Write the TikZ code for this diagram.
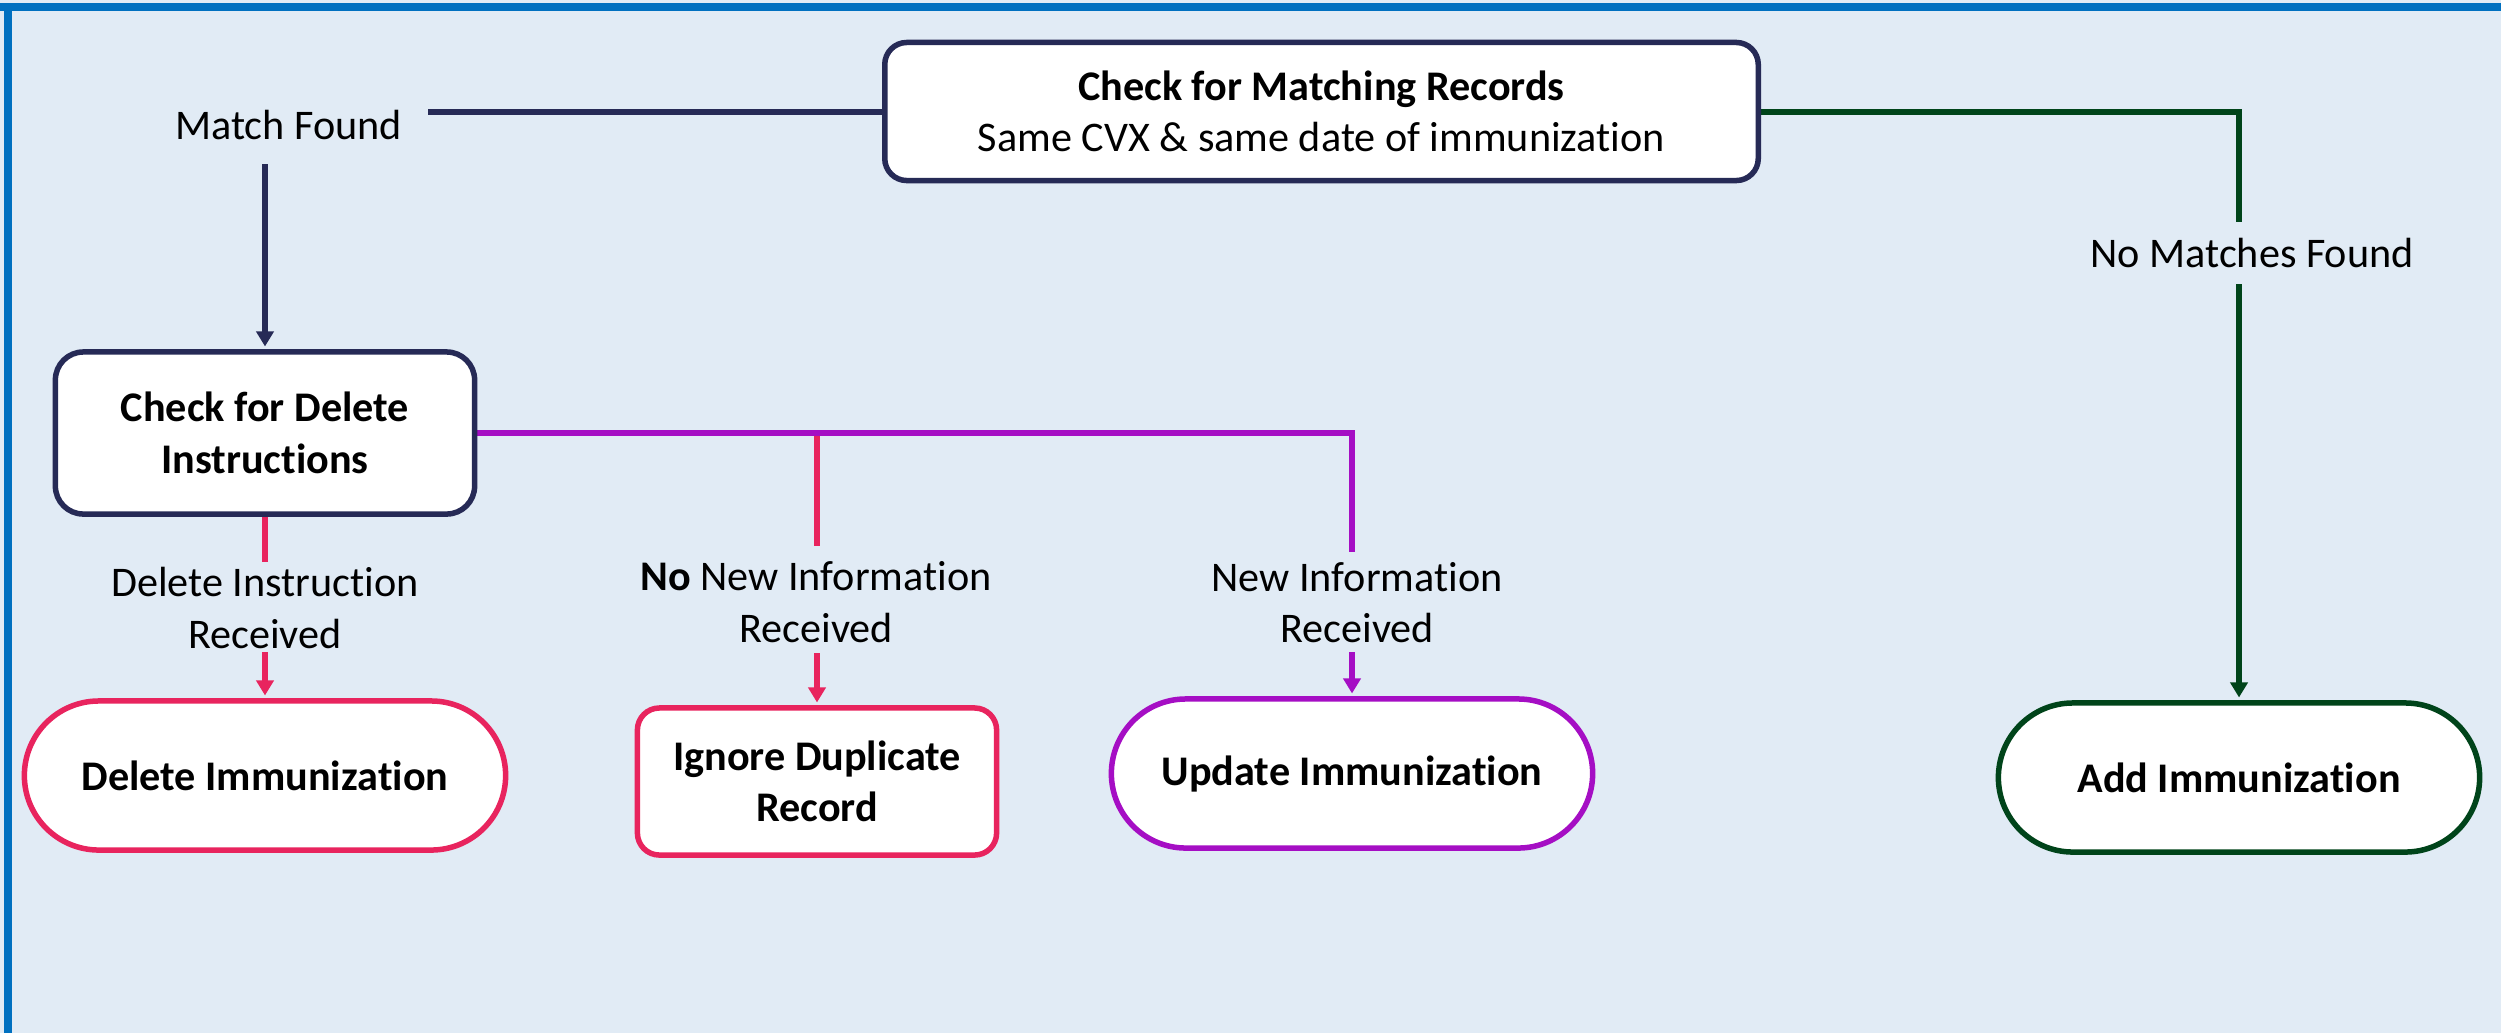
\documentclass[tikz,border=0pt]{standalone}
\usepackage{fontspec}
\setmainfont{Carlito}[Ligatures=NoCommon]
\usetikzlibrary{arrows.meta,backgrounds}
\definecolor{navyc}{RGB}{38,42,86}
\definecolor{greenc}{RGB}{0,68,26}
\definecolor{purpc}{RGB}{165,14,196}
\definecolor{pinkc}{RGB}{232,36,94}
\definecolor{bgc}{RGB}{225,235,245}
\definecolor{framec}{RGB}{0,112,192}
\begin{document}
\begin{tikzpicture}[x=0.01cm,y=-0.01cm,
  txt/.style={font=\fontsize{12pt}{14.6pt}\selectfont, align=center, text=black, inner sep=0pt},
  btxt/.style={font=\fontsize{12pt}{14.6pt}\selectfont\bfseries, align=center, text=black},
  box/.style={btxt, draw, fill=white, line width=0.055cm, inner sep=0pt},
  stadium/.style={box, rounded corners=0.745cm, minimum width=4.81cm, minimum height=1.49cm},
  conn/.style={line width=0.06cm},
  arr/.style={conn, -{Triangle[width=0.17cm,length=0.15cm]}, shorten >=0.0275cm},
]
\useasboundingbox (0,0) rectangle (2501,1033);

% nodes
\node[box, draw=navyc, rounded corners=0.22cm, minimum width=8.73cm, minimum height=1.38cm]
  (match) at (1321.5,111.5) {Check for Matching Records\\\mdseries Same CVX \& same date of immunization};
\node[box, draw=navyc, rounded corners=0.28cm, minimum width=4.19cm, minimum height=1.62cm]
  (chkdel) at (265,433) {Check for Delete\\Instructions};
\node[stadium, draw=pinkc] (del) at (265,775.5) {Delete Immunization};
\node[box, draw=pinkc, rounded corners=0.22cm, minimum width=3.59cm, minimum height=1.47cm]
  (ign) at (817,781.5) {Ignore Duplicate\\Record};
\node[stadium, draw=purpc] (upd) at (1352,773.5) {Update Immunization};
\node[stadium, draw=greenc] (add) at (2239,777.5) {Add Immunization};

% labels
\node[txt, anchor=base] (lmatch) at (288.5,139) {Match Found};
\node[txt] (ldel) at (265,608) {Delete Instruction\\Received};
\node[txt] (lnonew) at (816,602) {\textbf{No} New Information\\Received};
\node[txt] (lnew) at (1357,602.5) {New Information\\Received};
\node[txt, anchor=base] (lnomatch) at (2252,267) {No Matches Found};

% free ends
\coordinate (m1) at (428,111.5);
\coordinate (m2) at (265,164);
\coordinate (p1) at (1352,552);
\coordinate (p2) at (1352,652);
\coordinate (n0) at (817,433);
\coordinate (n1) at (817,546);
\coordinate (n2) at (817,653);
\coordinate (d1) at (265,562);
\coordinate (d2) at (265,652);
\coordinate (g1) at (2239,222);
\coordinate (g2) at (2239,284);

\begin{scope}[on background layer]
  \fill[bgc] (0,0) rectangle (2501,1033);
  \fill[framec] (0,3) rectangle (2501,11);
  \fill[framec] (4,3) rectangle (12,1033);
  \draw[conn, navyc] (match.west) -- (m1);
  \draw[arr, navyc] (m2) -- (chkdel.north);
  \draw[conn, pinkc] (n0) -- (n1);
  \draw[conn, purpc] (chkdel.east) -| (p1);
  \draw[arr, purpc] (p2) -- (upd.north);
  \draw[arr, pinkc] (n2) -- (ign.north);
  \draw[conn, pinkc] (chkdel.south) -- (d1);
  \draw[arr, pinkc] (d2) -- (del.north);
  \draw[conn, greenc] (match.east) -| (g1);
  \draw[arr, greenc] (g2) -- (add.north);
\end{scope}
\end{tikzpicture}
\end{document}
